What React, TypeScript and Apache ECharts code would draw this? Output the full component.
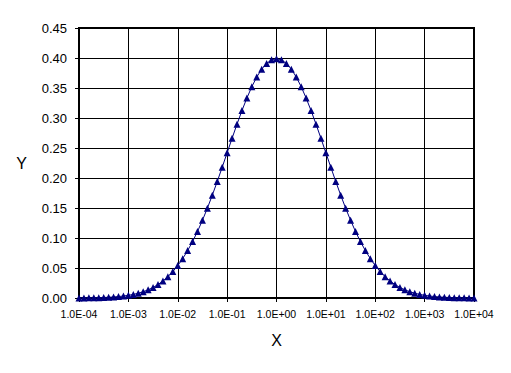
import React, { useEffect, useRef } from "react";
import * as echarts from "echarts";

// log10 of X for each plotted point
const xExponents = [
  -4.0, -3.9, -3.8, -3.7, -3.6, -3.5, -3.4, -3.3, -3.2, -3.1,
  -3.0, -2.9, -2.8, -2.7, -2.6, -2.5, -2.4, -2.3, -2.2, -2.1,
  -2.0, -1.9, -1.8, -1.7, -1.6, -1.5, -1.4, -1.3, -1.2, -1.1,
  -1.0, -0.9, -0.8, -0.7, -0.6, -0.5, -0.4, -0.3, -0.2, -0.1,
  0.0, 0.1, 0.2, 0.3, 0.4, 0.5, 0.6, 0.7, 0.8, 0.9,
  1.0, 1.1, 1.2, 1.3, 1.4, 1.5, 1.6, 1.7, 1.8, 1.9,
  2.0, 2.1, 2.2, 2.3, 2.4, 2.5, 2.6, 2.7, 2.8, 2.9,
  3.0, 3.1, 3.2, 3.3, 3.4, 3.5, 3.6, 3.7, 3.8, 3.9,
  4.0,
];

const yValues = [
  0.0001, 0.0002, 0.0003, 0.0004, 0.0006, 0.0009, 0.0012, 0.0017, 0.0024, 0.0033,
  0.0044, 0.006, 0.0079, 0.0104, 0.0136, 0.0175, 0.0224, 0.0283, 0.0355, 0.044,
  0.054, 0.0656, 0.079, 0.094, 0.1109, 0.1295, 0.1497, 0.1714, 0.1942, 0.2179,
  0.242, 0.2661, 0.2897, 0.3123, 0.3332, 0.3521, 0.3683, 0.3814, 0.391, 0.397,
  0.3989, 0.397, 0.391, 0.3814, 0.3683, 0.3521, 0.3332, 0.3123, 0.2897, 0.2661,
  0.242, 0.2179, 0.1942, 0.1714, 0.1497, 0.1295, 0.1109, 0.094, 0.079, 0.0656,
  0.054, 0.044, 0.0355, 0.0283, 0.0224, 0.0175, 0.0136, 0.0104, 0.0079, 0.006,
  0.0044, 0.0033, 0.0024, 0.0017, 0.0012, 0.0009, 0.0006, 0.0004, 0.0003, 0.0002,
  0.0001,
];

const xName = "X";
const yName = "Y";

function fmtX(v: number): string {
  const e = Math.round(Math.log10(v));
  const sign = e < 0 ? "-" : "+";
  const a = Math.abs(e);
  return "1.0E" + sign + (a < 10 ? "0" + a : String(a));
}

export default function App() {
  const ref = useRef<HTMLDivElement>(null);
  useEffect(() => {
    document.body.style.margin = "0";
    const chart = echarts.init(ref.current!, null, { renderer: "svg" });
    const font = "'Liberation Sans', Arial, sans-serif";
    const data = xExponents.map((e, i) => [Math.pow(10, e), yValues[i]]);
    chart.setOption({
      animation: false,
      backgroundColor: "#ffffff",
      grid: {
        left: 79,
        top: 28,
        right: 37,
        bottom: 75,
        show: true,
        borderColor: "#000",
        borderWidth: 2,
        backgroundColor: "transparent",
      },
      xAxis: {
        type: "log",
        logBase: 10,
        min: 1e-4,
        max: 1e4,
        splitNumber: 8,
        name: xName,
        nameLocation: "middle",
        nameGap: 34,
        nameTextStyle: { fontFamily: font, fontSize: 16, color: "#000" },
        axisLine: { onZero: false, lineStyle: { color: "#000", width: 2 } },
        axisTick: { show: true, length: 4, lineStyle: { color: "#000" } },
        minorTick: { show: false },
        axisLabel: {
          formatter: (v: number) => fmtX(v),
          fontFamily: font,
          fontSize: 10.5,
          color: "#000",
          margin: 10,
        },
        splitLine: { show: true, lineStyle: { color: "#000", width: 1 } },
      },
      yAxis: {
        type: "value",
        min: 0,
        max: 0.45,
        interval: 0.05,
        name: yName,
        nameLocation: "middle",
        nameGap: 52,
        nameRotate: 0,
        nameTextStyle: { fontFamily: font, fontSize: 16, color: "#000" },
        axisLine: { show: true, lineStyle: { color: "#000", width: 2 } },
        axisTick: { show: true, length: 4, lineStyle: { color: "#000" } },
        axisLabel: {
          formatter: (v: number) => v.toFixed(2),
          fontFamily: font,
          fontSize: 13,
          color: "#000",
          margin: 12,
        },
        splitLine: { show: true, lineStyle: { color: "#000", width: 1 } },
      },
      series: [
        {
          type: "line",
          data,
          symbol: "triangle",
          symbolSize: 7,
          showSymbol: true,
          lineStyle: { color: "#000080", width: 1 },
          itemStyle: { color: "#000080" },
          clip: false,
        },
      ],
    });
    return () => chart.dispose();
  }, []);
  return (
    <div
      ref={ref}
      style={{ position: "absolute", left: 0, top: 0, width: 511, height: 373 }}
    />
  );
}
